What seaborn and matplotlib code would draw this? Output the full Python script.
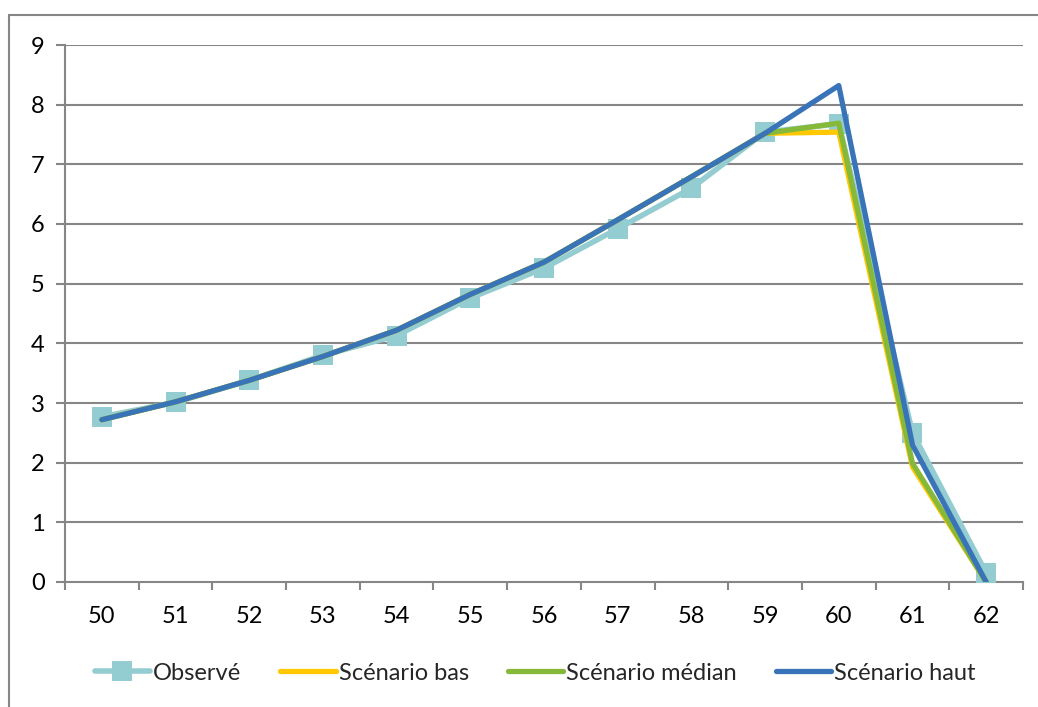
import matplotlib
matplotlib.use("Agg")
import matplotlib.pyplot as plt
from matplotlib.lines import Line2D
import numpy as np
import pandas as pd
import seaborn as sns

# Ages (categories) and the four series
ages = [50, 51, 52, 53, 54, 55, 56, 57, 58, 59, 60, 61, 62]
observe = [2.77, 3.01, 3.38, 3.80, 4.13, 4.76, 5.26, 5.92, 6.60, 7.54, 7.68, 2.50, 0.15]
scen_bas = [2.72, 3.02, 3.38, 3.78, 4.22, 4.82, 5.36, 6.07, 6.79, 7.52, 7.54, 1.93, 0.0]
scen_median = [2.72, 3.02, 3.38, 3.78, 4.22, 4.82, 5.36, 6.07, 6.79, 7.52, 7.69, 1.99, 0.0]
scen_haut = [2.72, 3.02, 3.38, 3.78, 4.22, 4.82, 5.36, 6.07, 6.79, 7.52, 8.32, 2.30, 0.0]
y_ticks = [0, 1, 2, 3, 4, 5, 6, 7, 8, 9]

labels = ["Observé", "Scénario bas", "Scénario médian", "Scénario haut"]
colors = ["#93CDD1", "#FFC800", "#86B93A", "#3A74B8"]

sns.set_theme(style="white")
plt.rcParams["font.family"] = ["Lato", "DejaVu Sans"]

W, H = 1038, 707
fig = plt.figure(figsize=(W / 100, H / 100), dpi=100)
ax = fig.add_axes([65 / W, 1 - 582 / H, 958 / W, 537 / H])

pos = np.arange(len(ages))
df = pd.DataFrame({"pos": pos, "obs": observe, "bas": scen_bas,
                   "med": scen_median, "haut": scen_haut})

grid_c = "#868686"
for v in y_ticks[1:]:
    ax.axhline(v, color=grid_c, lw=1.5, zorder=1)

sns.lineplot(data=df, x="pos", y="obs", ax=ax, color=colors[0], lw=4.0,
             marker="s", markersize=15, markeredgewidth=0, zorder=3)
sns.lineplot(data=df, x="pos", y="bas", ax=ax, color=colors[1], lw=3.8, zorder=4)
sns.lineplot(data=df, x="pos", y="med", ax=ax, color=colors[2], lw=3.8, zorder=5)
sns.lineplot(data=df, x="pos", y="haut", ax=ax, color=colors[3], lw=3.8, zorder=6)

ax.set_xlim(-0.5, len(ages) - 0.5)
ax.set_ylim(0, 9)
ax.set_xlabel("")
ax.set_ylabel("")

for s in ["top", "right"]:
    ax.spines[s].set_visible(False)
for s in ["left", "bottom"]:
    ax.spines[s].set_color(grid_c)
    ax.spines[s].set_linewidth(1.5)

fs = 17
ax.set_xticks(pos)
ax.set_xticklabels([str(a) for a in ages], fontsize=fs, color="black")
ax.set_xticks(np.arange(-0.5, len(ages), 1.0), minor=True)
ax.tick_params(axis="x", which="major", length=0, pad=17)
ax.tick_params(axis="x", which="minor", length=6, width=1.5, color=grid_c,
               direction="out", bottom=True)
ax.set_yticks(y_ticks)
ax.set_yticklabels([str(v) for v in y_ticks], fontsize=fs, color="black")
ax.tick_params(axis="y", which="major", length=6.5, width=1.5, color=grid_c,
               direction="out", left=True, pad=8)

handles = [
    Line2D([], [], color=colors[0], lw=4.0, marker="s", markersize=14, markeredgewidth=0),
    Line2D([], [], color=colors[1], lw=3.8),
    Line2D([], [], color=colors[2], lw=3.8),
    Line2D([], [], color=colors[3], lw=3.8),
]
fig.legend(handles, labels, loc="center", bbox_to_anchor=(535 / W, 1 - 673 / H),
           ncol=4, frameon=False, fontsize=fs, handlelength=2.35,
           handletextpad=0.12, columnspacing=1.65)

# Chart area frame (left and top edges)
fig.add_artist(Line2D([9 / W, 9 / W], [0, 1 - 15 / H], color=grid_c, lw=1.5,
                      transform=fig.transFigure))
fig.add_artist(Line2D([9 / W, 1], [1 - 15 / H, 1 - 15 / H], color=grid_c, lw=1.5,
                      transform=fig.transFigure))

fig.savefig("out.png", dpi=100, facecolor="white")
